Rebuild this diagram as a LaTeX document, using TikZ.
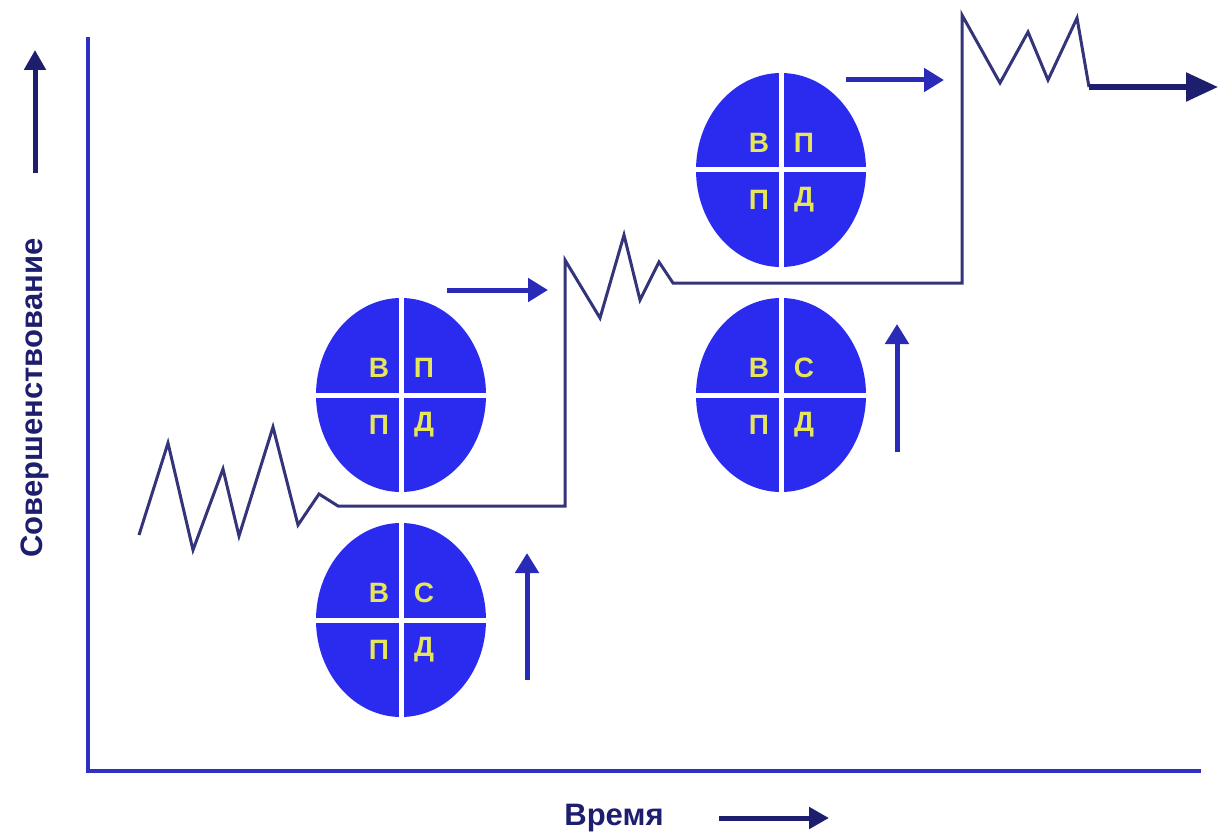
\documentclass[tikz,border=0pt]{standalone}
\usepackage{fontspec}
\setmainfont{Liberation Sans}
\usetikzlibrary{shapes.geometric,arrows.meta,calc}
\definecolor{navy}{HTML}{34347A}
\definecolor{axisblue}{HTML}{2F2FC0}
\definecolor{discblue}{HTML}{2B2BEF}
\definecolor{arrblue}{HTML}{2A2AB8}
\definecolor{letter}{HTML}{E6E65A}
\definecolor{darknavy}{HTML}{1E1E6E}
\tikzset{
  disc/.style={ellipse,fill=discblue,minimum width=170pt,minimum height=194pt,inner sep=0pt},
  cross/.style={white,line width=5pt},
  lett/.style={text=letter,font=\fontsize{28}{28}\selectfont\bfseries,inner sep=0pt},
  pathline/.style={navy,line width=3pt,line join=miter},
  bluearrow/.style={arrblue,line width=5pt,-{Triangle[length=20pt,width=23pt]}},
  darkarrow/.style={darknavy,line width=5.5pt,-{Triangle[length=32pt,width=28pt]}},
  labarrow/.style={darknavy,line width=5pt,-{Triangle[length=20pt,width=21pt]}},
  axisline/.style={axisblue,line width=4pt},
  lbl/.style={text=darknavy,font=\fontsize{31}{31}\selectfont\bfseries,inner sep=0pt}
}
\newcommand{\qdisc}[6]{%
  \node[disc] (#1) at (#2) {};
  \draw[cross] (#1.north) -- (#1.south);
  \draw[cross] (#1.west) -- (#1.east);
  \node[lett] (#1a) at ($(#1)+(-22,-27)$) {#3};
  \node[lett] (#1b) at ($(#1)+(23,-27)$) {#4};
  \node[lett] (#1c) at ($(#1)+(-22,30)$) {#5};
  \node[lett] (#1d) at ($(#1)+(23,30)$) {#6};
}
\begin{document}
\begin{tikzpicture}[x=1pt,y=-1pt]
\useasboundingbox (0,0) rectangle (1220,834);
\fill[white] (0,0) rectangle (1220,834);
% axes
\coordinate (ytop) at (88,37);
\coordinate (orig) at (88,771);
\coordinate (xend) at (1201,771);
\draw[axisline] (ytop) -- (orig) -- (xend);
% axis labels
\node[lbl,rotate=90] (ylab) at (35,398) {Совершенствование};
\coordinate (ya1) at (35,173);
\coordinate (ya2) at (35,50);
\draw[labarrow] (ya1) -- (ya2);
\node[lbl] (xlab) at (614,818) {Время};
\coordinate (xa1) at (719,818);
\coordinate (xa2) at (829,818);
\draw[labarrow] (xa1) -- (xa2);
% discs
\qdisc{d1}{401,395}{В}{П}{П}{Д}
\qdisc{d2}{401,620}{В}{С}{П}{Д}
\qdisc{d3}{781,170}{В}{П}{П}{Д}
\qdisc{d4}{781,395}{В}{С}{П}{Д}
% main path
\coordinate (p0) at (139,535);
\coordinate (p1) at (168,443);
\coordinate (p2) at (193,550);
\coordinate (p3) at (223,469);
\coordinate (p4) at (239,536);
\coordinate (p5) at (273,427);
\coordinate (p6) at (298,525);
\coordinate (p7) at (319,494);
\coordinate (p8) at (338,506);
\coordinate (p9) at (565,506);
\coordinate (q0) at (565,260);
\coordinate (q1) at (600,318);
\coordinate (q2) at (624,235);
\coordinate (q3) at (640,300);
\coordinate (q4) at (659,262);
\coordinate (q5) at (673,283);
\coordinate (q6) at (962,283);
\coordinate (r0) at (962,15);
\coordinate (r1) at (1000,83);
\coordinate (r2) at (1028,32);
\coordinate (r3) at (1048,80);
\coordinate (r4) at (1077,18);
\coordinate (r5) at (1089,87);
\coordinate (rend) at (1218,87);
\draw[pathline] (p0) -- (p1) -- (p2) -- (p3) -- (p4) -- (p5) -- (p6) -- (p7) -- (p8) -- (p9)
  -- (q0) -- (q1) -- (q2) -- (q3) -- (q4) -- (q5) -- (q6)
  -- (r0) -- (r1) -- (r2) -- (r3) -- (r4) -- (r5);
\draw[darkarrow] (r5) -- (rend);
% blue arrows
\coordinate (u1a) at (527,680);
\coordinate (u1b) at (527,553);
\draw[bluearrow] (u1a) -- (u1b);
\coordinate (u2a) at (897,452);
\coordinate (u2b) at (897,324);
\draw[bluearrow] (u2a) -- (u2b);
\coordinate (h1a) at (447,290);
\coordinate (h1b) at (548,290);
\draw[bluearrow] (h1a) -- (h1b);
\coordinate (h2a) at (846,80);
\coordinate (h2b) at (944,80);
\draw[bluearrow] (h2a) -- (h2b);
\end{tikzpicture}
\end{document}
